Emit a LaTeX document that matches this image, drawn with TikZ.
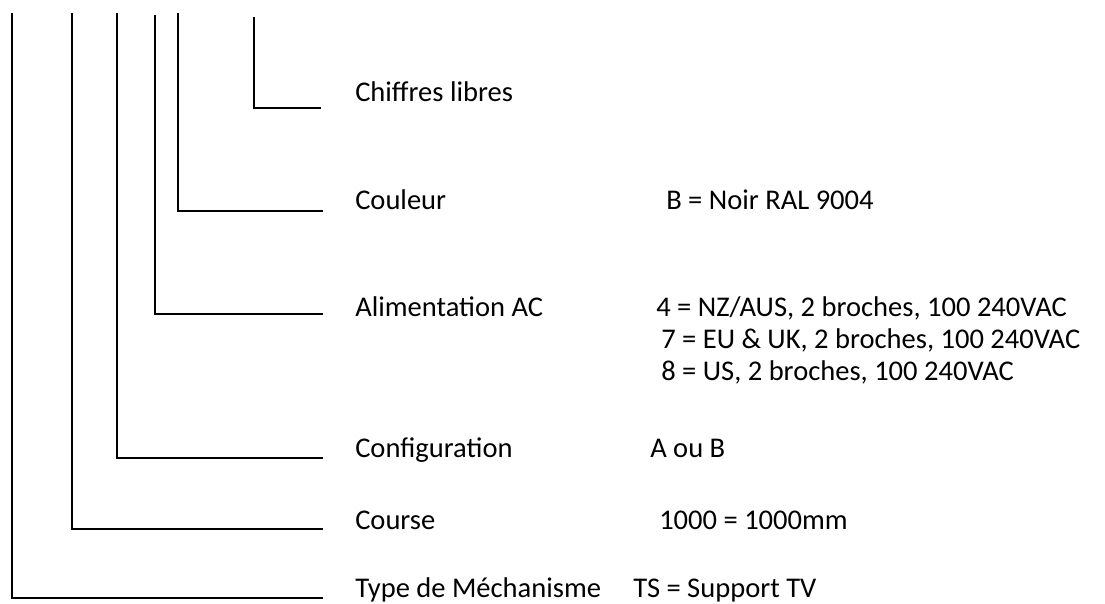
\documentclass[tikz,border=0pt]{standalone}
\usepackage{fontspec}
\setmainfont{Carlito}
\begin{document}
\begin{tikzpicture}[x=0.75pt,y=-0.75pt,
  leader/.style={draw=black,line width=1.5pt,line join=miter},
  lbl/.style={anchor=base west,inner sep=0pt,font=\fontsize{21.4pt}{25pt}\selectfont}]
\useasboundingbox (0,0) rectangle (1105,603);
% leader coordinates
\coordinate (t1) at (12,13);  \coordinate (c1) at (12,598);  \coordinate (e1) at (323,598);
\coordinate (t2) at (72,13);  \coordinate (c2) at (72,529);  \coordinate (e2) at (323,529);
\coordinate (t3) at (117,13); \coordinate (c3) at (117,458); \coordinate (e3) at (323,458);
\coordinate (t4) at (155,15); \coordinate (c4) at (155,314); \coordinate (e4) at (323,314);
\coordinate (t5) at (178,13); \coordinate (c5) at (178,211); \coordinate (e5) at (323,211);
\coordinate (t6) at (254,17); \coordinate (c6) at (254,108); \coordinate (e6) at (321,108);
\draw[leader] (t1) -- (c1) -- (e1);
\draw[leader] (t2) -- (c2) -- (e2);
\draw[leader] (t3) -- (c3) -- (e3);
\draw[leader] (t4) -- (c4) -- (e4);
\draw[leader] (t5) -- (c5) -- (e5);
\draw[leader] (t6) -- (c6) -- (e6);
% labels
\node[lbl] (chiffres) at (355,101) {Chiffres libres};
\node[lbl] (couleur) at (355,209) {Couleur};
\node[lbl] (alim) at (355,316) {Alimentation AC};
\node[lbl] (config) at (355,457) {Configuration};
\node[lbl] (course) at (355,529) {Course};
\node[lbl] (type) at (355,597) {Type de Méchanisme};
% values
\node[lbl] (vcoul) at (666,209) {B = Noir RAL 9004};
\node[lbl] (v4) at (656,316) {4 = NZ/AUS, 2 broches, 100 240VAC};
\node[lbl] (v7) at (661,348) {7 = EU \& UK, 2 broches, 100 240VAC};
\node[lbl] (v8) at (661,380) {8 = US, 2 broches, 100 240VAC};
\node[lbl] (vconf) at (650,457) {A ou B};
\node[lbl] (vcourse) at (659,529) {1000 = 1000mm};
\node[lbl] (vtype) at (633,597) {TS = Support TV};
\end{tikzpicture}
\end{document}
